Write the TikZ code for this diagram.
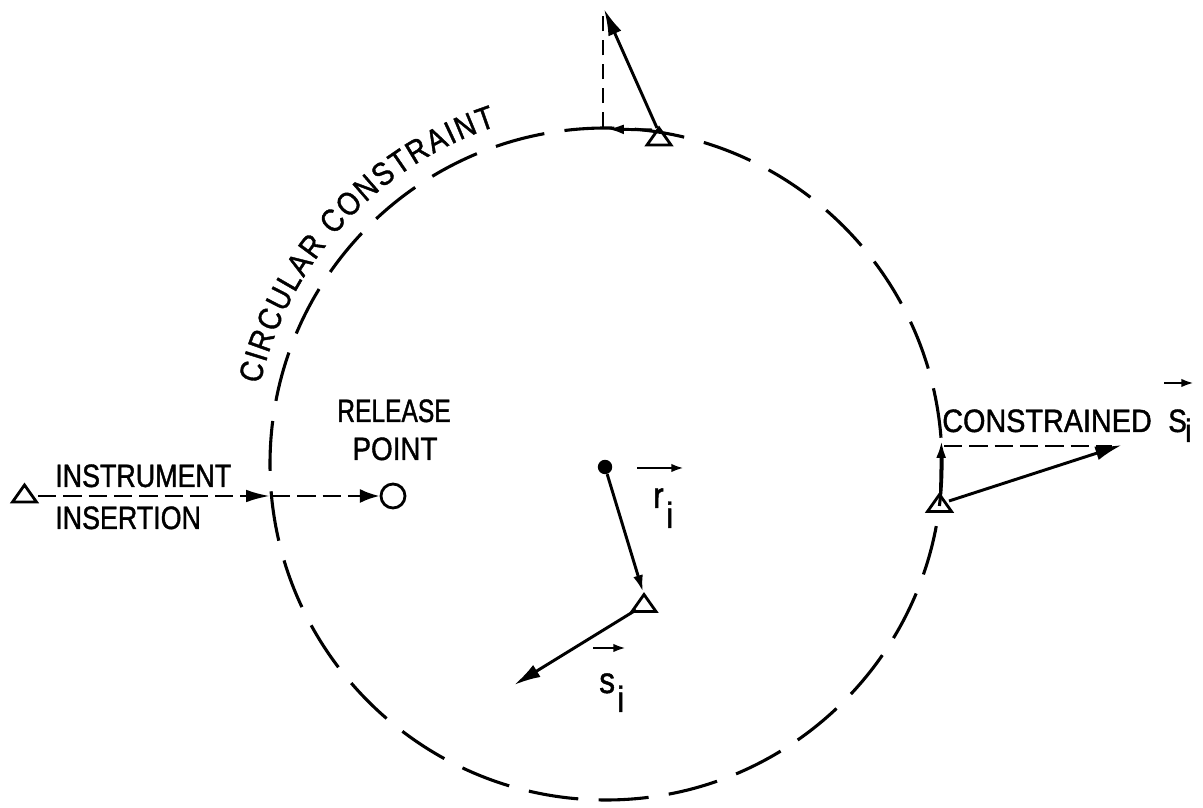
\documentclass[tikz,border=0pt]{standalone}
\usepackage{fontspec}
\usetikzlibrary{arrows.meta,decorations.text}
\newfontfamily\lblfont{Liberation Sans}[FakeStretch=0.86,FakeBold=1.2]
\newfontfamily\lblnarrow{Liberation Sans}[FakeStretch=0.76,FakeBold=1.2]
\newfontfamily\lblwide{Liberation Sans}[FakeStretch=0.83,FakeBold=1.2]
\newfontfamily\lblmid{Liberation Sans}[FakeStretch=0.89,FakeBold=1.2]
\newcommand\capsz{\lblfont\fontsize{23}{27}\selectfont}
\newcommand\capnarrow{\lblnarrow\fontsize{23}{27}\selectfont}
\newcommand\capwide{\lblwide\fontsize{23}{27}\selectfont}
\newcommand\capmid{\lblmid\fontsize{23}{27}\selectfont}
\newcommand\symsz{\lblfont\fontsize{26}{30}\selectfont}
\begin{document}
\begin{tikzpicture}[x=0.025cm,y=0.025cm,
  vec/.style={line width=2.1pt},
  bighead/.style={-{Latex[length=19pt,width=10pt]}},
  smallhead/.style={-{Latex[length=12pt,width=7pt]}},
  tinyhead/.style={-{Latex[length=9pt,width=6pt]}},
  dsh/.style={line width=1.9pt, dash pattern=on 13pt off 5pt},
  circ/.style={line width=2.2pt, dash pattern=on 35.6pt off 14.5pt, dash phase=31.4pt},
  tri/.pic={\draw[line width=2pt, line join=miter] (-12,-8.5) -- (12,-8.5) -- (0,8.5) -- cycle;},
  lbl/.style={font=\capsz, inner sep=0pt},
  sym/.style={font=\symsz, inner sep=0pt}]
\useasboundingbox (0,0) rectangle (1203,808);

% circular constraint
\coordinate (C) at (606,344);
\draw[circ] (C) ++(0:336) arc[start angle=0, end angle=360, radius=336];
\path[decorate, decoration={text along path, text={|\capsz|CIRCULAR CONSTRAINT}, text align=fit to path}]
  (C) ++(167:355) arc[start angle=167, end angle=108, radius=355];

% triangles
\coordinate (T1) at (24.5,314.5);
\coordinate (T2) at (659,671.5);
\coordinate (T3) at (939.5,305);
\coordinate (T4) at (644,205);
\pic at (T1) {tri};
\pic at (T2) {tri};
\pic at (T3) {tri};
\pic at (T4) {tri};

% instrument insertion
\node[inner sep=0pt, font=\capwide, anchor=base west] (instr) at (55,321) {INSTRUMENT};
\node[inner sep=0pt, font=\capwide, anchor=base west] (inser) at (55,279) {INSERTION};
\node[draw, circle, line width=2pt, minimum size=0.6cm, inner sep=0pt] (rel) at (393,312) {};
\node[inner sep=0pt, font=\capnarrow, anchor=base] (relt) at (394,386) {RELEASE};
\node[inner sep=0pt, font=\capsz, anchor=base] (pnt) at (395,348) {POINT};
\coordinate (insS) at (38,312);
\coordinate (cross) at (270,312);
\draw[dsh, -{Latex[length=17pt,width=9pt]}] (insS) -- (cross);
\draw[dsh, -{Latex[length=14pt,width=10pt]}] (cross) ++(2,0) coordinate (cross2) -- (rel.west);

% top: constrained decomposition
\coordinate (t2a) at (657,680);
\coordinate (t2l) at (652,678);
\coordinate (topTip) at (604,799);
\coordinate (tanTip) at (607,679);
\coordinate (vbot) at (603,681);
\coordinate (vtop) at (603,797);
\draw[vec, bighead] (t2a) -- (topTip);
\draw[dsh, dash pattern=on 11pt off 6pt] (vbot) -- (vtop);
\draw[vec, smallhead] (t2l) -- (tanTip);

% right: constrained s_i
\coordinate (t3a) at (940.5,314);
\coordinate (t3r) at (949,307);
\coordinate (upTip) at (941.5,367);
\coordinate (bigTip) at (1122,363);
\coordinate (dL) at (944,362);
\coordinate (dR) at (1112,362);
\draw[vec, smallhead] (t3a) -- (upTip);
\draw[dsh] (dL) -- (dR);
\draw[vec, bighead] (t3r) -- (bigTip);
\node[inner sep=0pt, font=\capmid, anchor=base west] (constr) at (942,376) {CONSTRAINED};
\node[lbl, anchor=base west] (Sr) at (1168,376) {S};
\node[lbl, anchor=base west] (ir) at (1185,366) {i};
\coordinate (aSrL) at (1164,425);
\coordinate (aSrR) at (1194,425);
\draw[line width=1.8pt, tinyhead] (aSrL) -- (aSrR);

% centre: r_i and s_i
\node[circle, fill, minimum size=0.36cm, inner sep=0pt] (D) at (605,341) {};
\coordinate (rTip) at (643,216);
\draw[vec, smallhead] (D) -- (rTip);
\coordinate (t4l) at (636,198);
\coordinate (sTip) at (514,123);
\draw[vec, bighead] (t4l) -- (sTip);
\node[sym, anchor=base west] (rl) at (653,300) {r};
\node[sym, anchor=base west] (ril) at (666,280) {i};
\coordinate (arL) at (637,340);
\coordinate (arR) at (684,340);
\draw[line width=1.8pt, tinyhead] (arL) -- (arR);
\node[sym, anchor=base west] (sl) at (599,115) {s};
\node[sym, anchor=base west] (sil) at (617,96) {i};
\coordinate (asL) at (593,160);
\coordinate (asR) at (626,160);
\draw[line width=1.8pt, tinyhead] (asL) -- (asR);
\end{tikzpicture}
\end{document}
